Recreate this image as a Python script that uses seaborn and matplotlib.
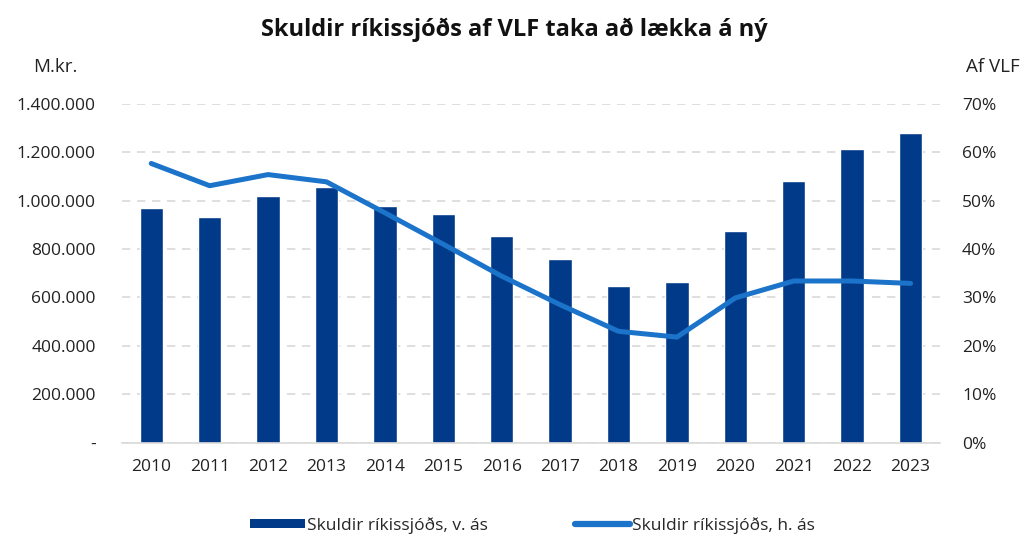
import matplotlib
matplotlib.use("Agg")
import matplotlib.pyplot as plt
from matplotlib.ticker import FuncFormatter, MultipleLocator
from matplotlib.patches import Patch
from matplotlib.lines import Line2D
import seaborn as sns
import pandas as pd

# data
years = ["2010", "2011", "2012", "2013", "2014", "2015", "2016",
         "2017", "2018", "2019", "2020", "2021", "2022", "2023"]
debt_mkr = [969000, 934000, 1019000, 1056000, 980000, 944000, 854000,
            757000, 649000, 665000, 876000, 1081000, 1212000, 1279000]
debt_pct_gdp = [57.7, 53.1, 55.4, 53.9, 47.5, 41.0, 34.4,
                28.5, 23.0, 21.8, 29.9, 33.4, 33.4, 32.9]

BAR_COLOR = "#023A8A"
LINE_COLOR = "#1B74C9"
GRID_COLOR = "#D9D9D9"
TEXT_COLOR = "#222222"

sns.set_theme(style="white")
plt.rcParams["font.family"] = ["Open Sans", "DejaVu Sans"]

df = pd.DataFrame({"year": years, "debt": debt_mkr, "pct": debt_pct_gdp})

fig = plt.figure(figsize=(10.28, 5.36), dpi=100)
ax = fig.add_axes([0.1187, 0.1744, 0.7955, 0.6316])
ax2 = ax.twinx()

sns.barplot(data=df, x="year", y="debt", color=BAR_COLOR, width=0.4,
            saturation=1, ax=ax, zorder=2)
sns.pointplot(data=df, x="year", y="pct", color=LINE_COLOR, markers="",
              linestyles="-", linewidth=3.6, ax=ax2)

ax.set_ylim(0, 1400000)
ax2.set_ylim(0, 70)
ax.yaxis.set_major_locator(MultipleLocator(200000))
ax2.yaxis.set_major_locator(MultipleLocator(10))


def thousands(v, pos):
    if v == 0:
        return "-"
    return f"{v:,.0f}".replace(",", ".")


ax.yaxis.set_major_formatter(FuncFormatter(thousands))
ax2.yaxis.set_major_formatter(FuncFormatter(lambda v, p: f"{v:.0f}%"))

ax.set_xlim(-0.5, len(years) - 0.5)
ax.grid(axis="y", color=GRID_COLOR, linestyle=(0, (5, 4)), linewidth=1.2, zorder=0)
ax.set_axisbelow(True)
ax2.grid(False)

for a in (ax, ax2):
    for s in ("top", "left", "right"):
        a.spines[s].set_visible(False)
    a.set_xlabel("")
    a.set_ylabel("")
    a.tick_params(length=0, labelsize=12.5, colors=TEXT_COLOR)
ax.spines["bottom"].set_color(GRID_COLOR)
ax.spines["bottom"].set_linewidth(1.2)
ax2.spines["bottom"].set_visible(False)
ax.tick_params(axis="y", pad=19)
ax.tick_params(axis="x", pad=12)
ax2.tick_params(axis="y", pad=16)

fig.text(0.5, 0.945, "Skuldir ríkissjóðs af VLF taka að lækka á ný",
         ha="center", va="center", fontsize=17, fontweight="bold", color="#111111")
fig.text(0.054, 0.875, "M.kr.", ha="center", va="center", fontsize=13.5, color=TEXT_COLOR)
fig.text(0.966, 0.875, "Af VLF", ha="center", va="center", fontsize=13.5, color=TEXT_COLOR)

handles = [Patch(facecolor=BAR_COLOR, edgecolor="none"),
           Line2D([0], [0], color=LINE_COLOR, linewidth=4.5, solid_capstyle="round")]
labels = ["Skuldir ríkissjóðs, v. ás", "Skuldir ríkissjóðs, h. ás"]
fig.legend(handles, labels, loc="center", bbox_to_anchor=(0.518, 0.02), ncol=2,
           frameon=False, fontsize=12.5, handlelength=3.2, handleheight=0.4,
           handletextpad=0.1, columnspacing=5.0)

fig.savefig("out.png", dpi=100)
